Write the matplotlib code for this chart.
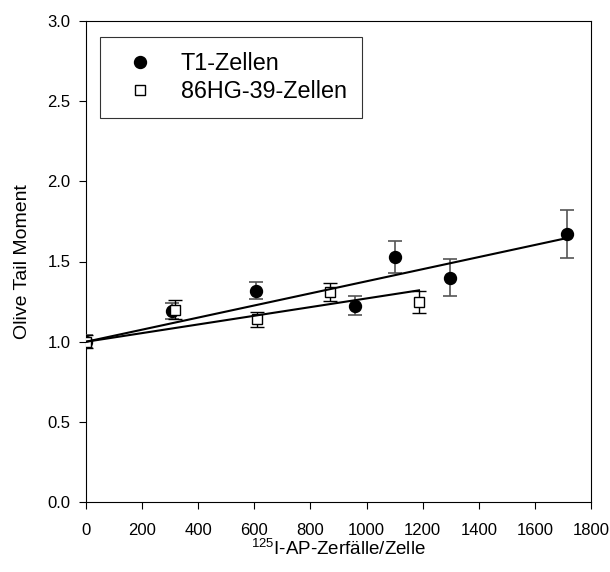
import numpy as np
import matplotlib
matplotlib.use("Agg")
import matplotlib.pyplot as plt
from matplotlib.lines import Line2D

plt.rcParams['font.family'] = ['Liberation Sans', 'DejaVu Sans']
plt.rcParams['mathtext.fontset'] = 'custom'
plt.rcParams['mathtext.rm'] = 'Liberation Sans'

# T1 cells
t1_x = [0, 306, 606, 958, 1102, 1296, 1714]
t1_y = [1.00, 1.19, 1.318, 1.225, 1.53, 1.40, 1.67]
t1_err = [0.04, 0.05, 0.054, 0.06, 0.10, 0.117, 0.15]

# 86HG-39 cells
hg_x = [0, 318, 610, 871, 1187]
hg_y = [1.00, 1.20, 1.14, 1.312, 1.246]
hg_err = [0.04, 0.06, 0.048, 0.056, 0.068]

x_ticks = [0, 200, 400, 600, 800, 1000, 1200, 1400, 1600, 1800]
y_ticks = [0.0, 0.5, 1.0, 1.5, 2.0, 2.5, 3.0]


def fit_through_one(x, y):
    """Least-squares slope for y = 1 + b*x."""
    x = np.asarray(x, float)
    y = np.asarray(y, float)
    return np.sum(x * (y - 1.0)) / np.sum(x * x)


fig = plt.figure(figsize=(6.10, 5.72), dpi=100)
ax = fig.add_axes([86 / 610, 1 - 502.3 / 572, (591 - 86) / 610, (502.3 - 20.7) / 572])

ax.errorbar(t1_x, t1_y, yerr=t1_err, fmt='o', color='black', ms=8.6,
            ecolor='#555555', elinewidth=1.2, capsize=5, capthick=1.2, zorder=3)
ax.errorbar(hg_x, hg_y, yerr=hg_err, fmt='s', mfc='white', mec='black', mew=1.0,
            ms=7.2, ecolor='black', elinewidth=1.0, capsize=5, capthick=1.0, zorder=4)

for xs, ys in ((t1_x, t1_y), (hg_x, hg_y)):
    b = fit_through_one(xs, ys)
    xx = np.array([0, max(xs)])
    ax.plot(xx, 1.0 + b * xx, color='black', lw=1.5, zorder=5)

ax.set_xlim(0, 1800)
ax.set_ylim(0, 3.0)
ax.set_xticks(x_ticks)
ax.set_yticks(y_ticks)
ax.set_yticklabels([f"{v:.1f}" for v in y_ticks])
ax.tick_params(direction='out', length=5, width=0.8, labelsize=12)
ax.tick_params(axis='x', pad=10)
ax.tick_params(axis='y', pad=6)
for s in ax.spines.values():
    s.set_linewidth(0.8)

ax.set_ylabel('Olive Tail Moment', fontsize=14, labelpad=12)
ax.set_xlabel(r'$^{125}$I-AP-Zerfälle/Zelle', fontsize=13.5, labelpad=0)

handles = [
    Line2D([], [], ls='none', marker='o', color='black', ms=8.6),
    Line2D([], [], ls='none', marker='s', mfc='white', mec='black', mew=1.0, ms=6.5),
]
leg = ax.legend(handles, ['T1-Zellen', '86HG-39-Zellen'], loc='upper left',
                bbox_to_anchor=((100 - 86) / 505, 1 - (37.3 - 20.7) / 481.6),
                borderaxespad=0, fontsize=16.8, frameon=True, fancybox=False,
                edgecolor='black', handlelength=2.09, handletextpad=0.71,
                borderpad=0.65, labelspacing=0.19)
leg.get_frame().set_linewidth(0.8)

fig.savefig('out.png', dpi=100)
